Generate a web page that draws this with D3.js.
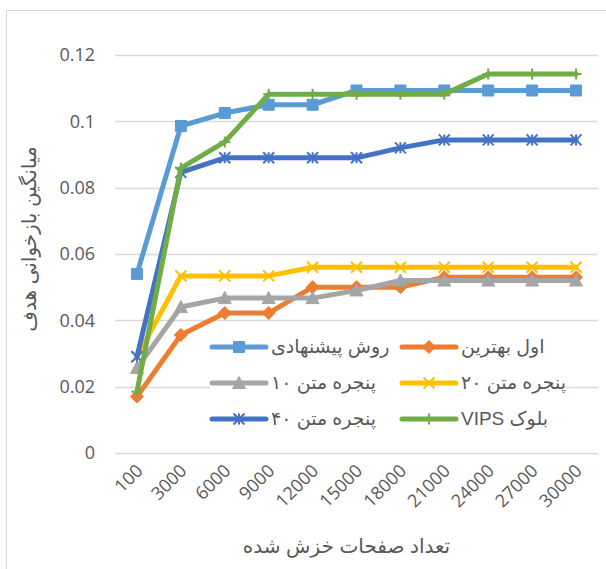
<!DOCTYPE html>
<html><head><meta charset="utf-8">
<script src="https://cdn.jsdelivr.net/npm/d3@7/dist/d3.min.js"></script>
<style>body{margin:0;background:#fff}svg{display:block}</style>
</head><body>
<svg id="c" width="606" height="569"></svg>
<script>
const categories = ["100","3000","6000","9000","12000","15000","18000","21000","24000","27000","30000"];
const yTicks = [0, 0.02, 0.04, 0.06, 0.08, 0.1, 0.12];
const seriesNames = ["روش پیشنهادی","اول بهترین","پنجره متن ۱۰","پنجره متن ۲۰","پنجره متن ۴۰","بلوک VIPS"];
const proposed = [0.054, 0.0986, 0.1025, 0.105, 0.105, 0.1093, 0.1093, 0.1093, 0.1093, 0.1093, 0.1093];
const bestFirst = [0.017, 0.0356, 0.0422, 0.0422, 0.050, 0.050, 0.050, 0.053, 0.053, 0.053, 0.053];
const window10 = [0.0256, 0.044, 0.0467, 0.0467, 0.0467, 0.049, 0.052, 0.052, 0.052, 0.052, 0.052];
const window20 = [0.029, 0.0534, 0.0534, 0.0534, 0.056, 0.056, 0.056, 0.056, 0.056, 0.056, 0.056];
const window40 = [0.029, 0.0846, 0.089, 0.089, 0.089, 0.089, 0.092, 0.0944, 0.0944, 0.0944, 0.0944];
const vips = [0.0185, 0.0859, 0.0938, 0.1082, 0.1082, 0.1082, 0.1082, 0.1082, 0.1143, 0.1143, 0.1143];
const xTitle = "تعداد صفحات خزش شده";
const yTitle = "میانگین بازخوانی هدف";

const colors = ["#5B9BD5","#ED7D31","#A5A5A5","#FFC000","#4472C4","#70AD47"];
const markers = ["square","diamond","triangle","x","star","plus"];
const allValues = [proposed, bestFirst, window10, window20, window40, vips];
const series = seriesNames.map((n,i)=>({name:n, values:allValues[i], color:colors[i], marker:markers[i]}));

const svg = d3.select("#c");
const L=115, R=598, T=55, B=453;
const x = d3.scaleBand().domain(categories).range([L,R]).paddingInner(0).paddingOuter(0);
const xc = c => x(c) + x.bandwidth()/2;
const y = d3.scaleLinear().domain([0,0.12]).range([B,T]);
const numFont = "'Open Sans', 'Liberation Sans', sans-serif";
const faFont = "'Liberation Sans', 'DejaVu Sans', sans-serif";

// chart border (left & top)
svg.append("path").attr("d","M6.5,569 L6.5,10.5 L606,10.5").attr("fill","none").attr("stroke","#D9D9D9").attr("stroke-width",1);

// gridlines
svg.append("g").selectAll("line").data(yTicks).join("line")
  .attr("x1",L).attr("x2",R).attr("y1",d=>Math.round(y(d))+0.5).attr("y2",d=>Math.round(y(d))+0.5)
  .attr("stroke","#D9D9D9").attr("stroke-width",1.3);

// y axis labels
const yAxis = d3.axisLeft(y).tickValues(yTicks).tickSize(0).tickPadding(0).tickFormat(d=>d===0?"0":String(+d.toFixed(2)));
const ya = svg.append("g").attr("transform","translate(95,0)").call(yAxis);
ya.select(".domain").remove();
ya.selectAll("text").attr("font-family",numFont).attr("font-size",18).attr("fill","#595959");

// x axis labels
const xAxis = d3.axisBottom(x).tickSize(0).tickPadding(0);
const xa = svg.append("g").attr("transform",`translate(0,${B})`).call(xAxis);
xa.select(".domain").remove();
xa.selectAll("text").attr("font-family",numFont).attr("font-size",18).attr("fill","#595959")
  .attr("text-anchor","end").attr("dy",null).attr("y",0)
  .attr("transform","translate(7,19) rotate(-45)");

// titles
svg.append("text").attr("x",(L+R)/2 - 10).attr("y",553).attr("text-anchor","middle")
  .attr("font-family",faFont).attr("font-size",20).attr("fill","#595959").text(xTitle);
svg.append("text").attr("transform",`translate(36,${(T+B)/2 - 15}) rotate(-90)`).attr("text-anchor","middle")
  .attr("font-family",faFont).attr("font-size",20).attr("fill","#595959").text(yTitle);

function markerPath(type, s){
  const h=s/2;
  switch(type){
    case "square": return `M${-h},${-h}H${h}V${h}H${-h}Z`;
    case "diamond": return `M0,${-h-1}L${h+1},0L0,${h+1}L${-h-1},0Z`;
    case "triangle": return `M0,${-h-1}L${h+1},${h}L${-h-1},${h}Z`;
    case "x": return `M${-h},${-h}L${h},${h}M${h},${-h}L${-h},${h}`;
    case "star": return `M${-h},${-h}L${h},${h}M${h},${-h}L${-h},${h}M0,${-h}V${h}`;
    case "plus": return `M0,${-h}V${h}M${-h},0H${h}`;
  }
}
function drawMarker(g, type, color, cx, cy){
  const filled = (type==="square"||type==="diamond"||type==="triangle");
  g.append("path").attr("transform",`translate(${cx},${cy})`).attr("d",markerPath(type, 11))
    .attr("fill", filled?color:"none").attr("stroke",color).attr("stroke-width", filled?1:2);
}

const line = d3.line().x((d,i)=>xc(categories[i])).y(d=>y(d));
series.forEach(s=>{
  const g = svg.append("g");
  g.append("path").attr("d",line(s.values)).attr("fill","none").attr("stroke",s.color)
    .attr("stroke-width",5).attr("stroke-linejoin","round").attr("stroke-linecap","round");
  s.values.forEach((v,i)=>drawMarker(g, s.marker, s.color, xc(categories[i]), y(v)));
});

// legend
const lg = svg.append("g");
lg.append("rect").attr("x",210).attr("y",333).attr("width",354).attr("height",100).attr("fill","#fff");
const colX = [212, 402], rowY = [347, 383, 419];
series.forEach((s,i)=>{
  const cx = colX[i%2], cy = rowY[Math.floor(i/2)];
  lg.append("line").attr("x1",cx).attr("x2",cx+54).attr("y1",cy).attr("y2",cy)
    .attr("stroke",s.color).attr("stroke-width",5).attr("stroke-linecap","round");
  drawMarker(lg, s.marker, s.color, cx+27, cy);
  lg.append("text").attr("x",cx+59).attr("y",cy+6)
    .attr("direction","rtl").attr("unicode-bidi","embed").attr("text-anchor","end")
    .attr("font-family",faFont).attr("font-size",19).attr("fill","#595959").text(s.name);
});
</script>
</body></html>
